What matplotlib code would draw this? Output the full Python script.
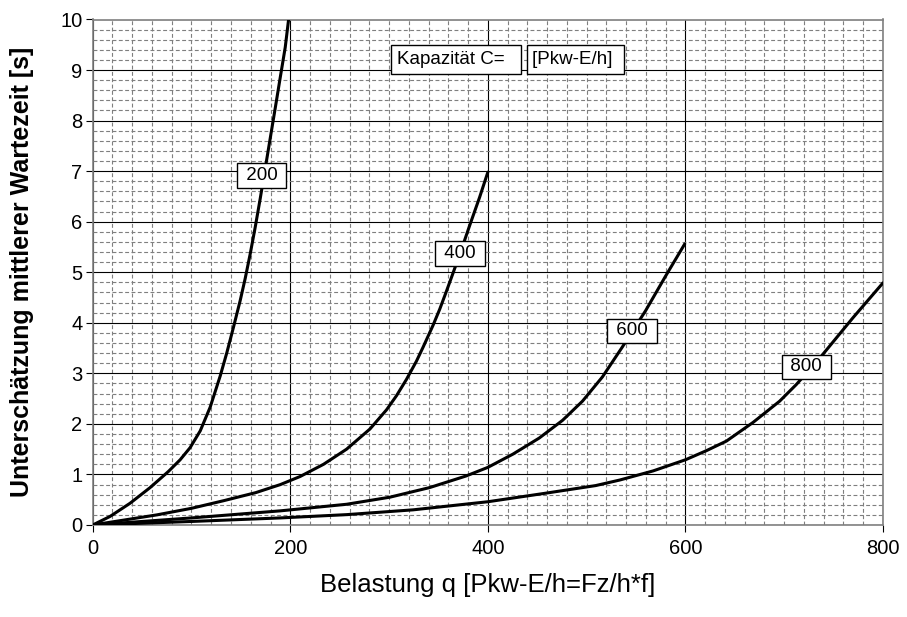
import matplotlib
matplotlib.use("Agg")
import matplotlib.pyplot as plt
from matplotlib.ticker import MultipleLocator

plt.rcParams['font.family'] = ['Liberation Sans', 'DejaVu Sans']

# Data
q200 = [0, 17.6, 37.8, 58.1, 76.7, 88.5, 98.6, 108.8, 118.9, 129.1, 135.8, 142.6, 149.3,
        154.4, 159.5, 164.5, 169.6, 174.7, 179.7, 184.8, 189.9, 194.9, 198.3]
w200 = [0, 0.17, 0.43, 0.74, 1.06, 1.29, 1.53, 1.86, 2.33, 2.95, 3.41, 3.92, 4.44,
        4.88, 5.37, 5.89, 6.46, 7.06, 7.65, 8.25, 8.86, 9.45, 10.0]

q400 = [0, 64.9, 100, 132.4, 165, 190, 210, 233.6, 257, 280.7, 297.5, 307.6, 317.6, 327.7,
        334.5, 344.5, 351.3, 358, 364.7, 373.1, 381.5, 391.6, 400]
w400 = [0, 0.2, 0.33, 0.48, 0.64, 0.8, 0.96, 1.2, 1.5, 1.9, 2.28, 2.56, 2.88, 3.24,
        3.52, 3.95, 4.27, 4.62, 4.98, 5.44, 5.92, 6.48, 6.98]

q600 = [0, 100, 190, 257, 300.8, 341, 378, 400, 425.2, 452, 475.6, 495.8, 516, 536.1,
        559.7, 579.8, 599.3]
w600 = [0, 0.14, 0.28, 0.41, 0.55, 0.74, 0.97, 1.14, 1.40, 1.72, 2.07, 2.45, 2.93, 3.52,
        4.24, 4.92, 5.56]

q800 = [0, 100, 190, 257, 324.4, 400, 458.8, 509.2, 533.6, 567.3, 600, 621.2, 641.5, 668.5,
        695.4, 712.3, 735.9, 769.6, 800]
w800 = [0, 0.07, 0.14, 0.205, 0.30, 0.46, 0.63, 0.78, 0.89, 1.07, 1.29, 1.47, 1.66, 2.03,
        2.45, 2.78, 3.30, 4.10, 4.79]

series = [(q200, w200), (q400, w400), (q600, w600), (q800, w800)]
capacity_labels = ["200", "400", "600", "800"]
label_pos = [(171, 6.91), (371.8, 5.37), (546, 3.84), (722.5, 3.13)]

x_ticks = [0, 200, 400, 600, 800]
y_ticks = list(range(0, 11))

W, H = 907, 617
fig = plt.figure(figsize=(W / 100, H / 100), dpi=100)
L, R, T, B = 92.7, 883.0, 19.5, 525.0
ax = fig.add_axes([L / W, 1 - B / H, (R - L) / W, (B - T) / H])

ax.set_xlim(0, 800)
ax.set_ylim(0, 10)
ax.set_xticks(x_ticks)
ax.set_yticks(y_ticks)
ax.xaxis.set_minor_locator(MultipleLocator(20))
ax.yaxis.set_minor_locator(MultipleLocator(0.2))

ax.grid(which='minor', color='#7f7f7f', linestyle=(0, (3.5, 2.2)), linewidth=0.8)
ax.grid(which='major', color='black', linestyle='-', linewidth=0.8)
ax.set_axisbelow(True)

for s in ax.spines.values():
    s.set_color('#808080')
    s.set_linewidth(1.2)

ax.tick_params(which='major', direction='out', length=5, width=0.8, color='black',
               labelsize=14.5)
ax.tick_params(axis='x', pad=5)
ax.tick_params(axis='y', pad=2.5)
ax.tick_params(which='minor', length=0)

for (q, w) in series:
    ax.plot(q, w, color='black', linewidth=2.2, solid_capstyle='round',
            solid_joinstyle='round', zorder=3)

for lab, (x, y) in zip(capacity_labels, label_pos):
    ax.text(x, y, " " + lab + " ", ha='center', va='center', fontsize=13.5, zorder=4,
            bbox=dict(boxstyle='square,pad=0.2', facecolor='white', edgecolor='black', linewidth=1))

ax.text(308, 9.21, "Kapazität C=  ", ha='left', va='center', fontsize=13.5, zorder=4,
        bbox=dict(boxstyle='square,pad=0.3', facecolor='white', edgecolor='black', linewidth=1))
ax.text(445, 9.21, "[Pkw-E/h] ", ha='left', va='center', fontsize=13.5, zorder=4,
        bbox=dict(boxstyle='square,pad=0.3', facecolor='white', edgecolor='black', linewidth=1))

fig.text(488 / W, 1 - 585 / H, "Belastung q [Pkw-E/h=Fz/h*f]", fontsize=18.5,
         ha='center', va='center')
fig.text(22 / W, 1 - 272 / H, "Unterschätzung mittlerer Wartezeit [s]", fontsize=18,
         fontweight='bold', rotation=90, ha='center', va='center')

fig.savefig("out.png", dpi=100)
